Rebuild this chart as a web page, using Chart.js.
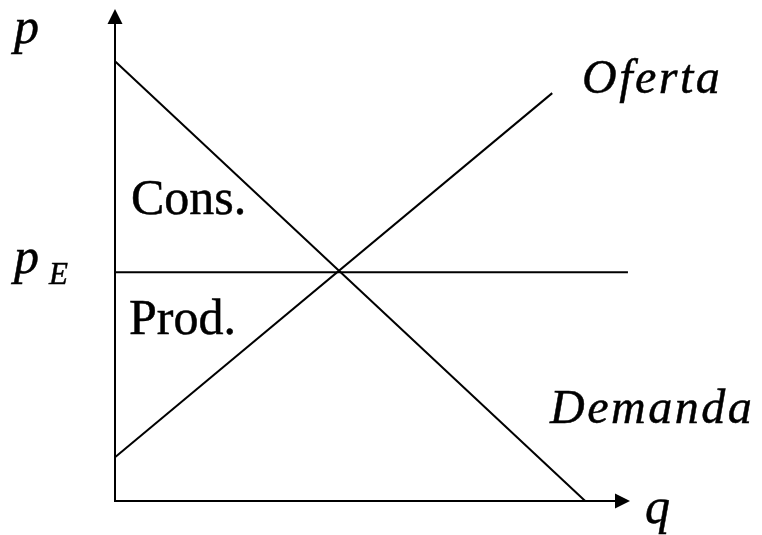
<html>
<head>
  <script src="https://cdn.jsdelivr.net/npm/chart.js@4.4.1/dist/chart.umd.min.js"></script>
</head>

<body style="padding: 0; margin: 0; background: #fff;">

<div style="width: 762px; height: 535px; position: relative;">
  <canvas id="chart"></canvas>
</div>

<script>
  // curves (q on the x axis, p on the y axis, 0..10)
  const demandQ = [0, 9.13]
  const demandP = [8.94, 0]
  const supplyQ = [0, 8.49]
  const supplyP = [0.89, 8.29]
  const equilibriumQ = [0, 9.96]
  const equilibriumP = [4.65, 4.65]
  const axisMax = 10

  const labelTexts = {p: 'p', pE: 'p', sub: 'E', q: 'q', supply: 'Oferta', demand: 'Demanda', cons: 'Cons.', prod: 'Prod.'}

  const toPoints = (xs, ys) => xs.map((x, i) => ({x: x, y: ys[i]}))

  const line = (data) => ({
    data: data,
    showLine: true,
    borderColor: '#000',
    borderWidth: 2,
    pointRadius: 0,
    fill: false,
    clip: false,
  })

  // axes with arrow heads + the text labels
  const diagram = {
    id: 'diagram',
    afterDatasetsDraw(chart) {
      const ctx = chart.ctx
      const xs = chart.scales.x
      const ys = chart.scales.y
      const x0 = xs.getPixelForValue(0)
      const y0 = ys.getPixelForValue(0)
      const xEnd = xs.getPixelForValue(axisMax)
      const yEnd = ys.getPixelForValue(axisMax)

      ctx.save()
      ctx.strokeStyle = '#000'
      ctx.fillStyle = '#000'
      ctx.lineWidth = 2
      ctx.beginPath()
      ctx.moveTo(x0, yEnd + 10)
      ctx.lineTo(x0, y0)
      ctx.lineTo(xEnd - 10, y0)
      ctx.stroke()

      ctx.beginPath()
      ctx.moveTo(x0, yEnd)
      ctx.lineTo(x0 - 7.5, yEnd + 15)
      ctx.lineTo(x0 + 7.5, yEnd + 15)
      ctx.closePath()
      ctx.fill()

      ctx.beginPath()
      ctx.moveTo(xEnd, y0)
      ctx.lineTo(xEnd - 15, y0 - 7.5)
      ctx.lineTo(xEnd - 15, y0 + 7.5)
      ctx.closePath()
      ctx.fill()

      // slightly heavier glyphs, like the original
      const text = (s, x, y) => {
        ctx.fillText(s, x, y)
        ctx.strokeText(s, x, y)
      }
      ctx.lineWidth = 0.5
      ctx.textBaseline = 'alphabetic'
      ctx.textAlign = 'left'
      const yE = ys.getPixelForValue(equilibriumP[0])

      ctx.font = 'italic 50px "Liberation Serif"'
      text(labelTexts.p, 14, 43)
      text(labelTexts.pE, 14, yE + 1)
      text(labelTexts.q, 645, 523)
      ctx.font = 'italic 31px "Liberation Serif"'
      text(labelTexts.sub, 49, yE + 12)

      ctx.font = 'italic 48px "Liberation Serif"'
      ctx.letterSpacing = '2.5px'
      text(labelTexts.supply, 582, 93)
      text(labelTexts.demand, 550, 423)
      ctx.letterSpacing = '0px'

      ctx.font = '50px "Liberation Serif"'
      text(labelTexts.cons, 131, 214)
      text(labelTexts.prod, 129, 334)
      ctx.restore()
    }
  }

  new Chart(document.getElementById('chart').getContext('2d'), {
    type: 'scatter',
    data: {
      datasets: [
        line(toPoints(demandQ, demandP)),
        line(toPoints(supplyQ, supplyP)),
        line(toPoints(equilibriumQ, equilibriumP)),
      ]
    },
    options: {
      responsive: true,
      maintainAspectRatio: false,
      animation: false,
      layout: {padding: {left: 115, right: 132, top: 9, bottom: 34}},
      scales: {
        x: {type: 'linear', min: 0, max: axisMax, display: false},
        y: {type: 'linear', min: 0, max: axisMax, display: false},
      },
      plugins: {legend: {display: false}, tooltip: {enabled: false}},
    },
    plugins: [diagram],
  })
</script>
</body>
</html>
